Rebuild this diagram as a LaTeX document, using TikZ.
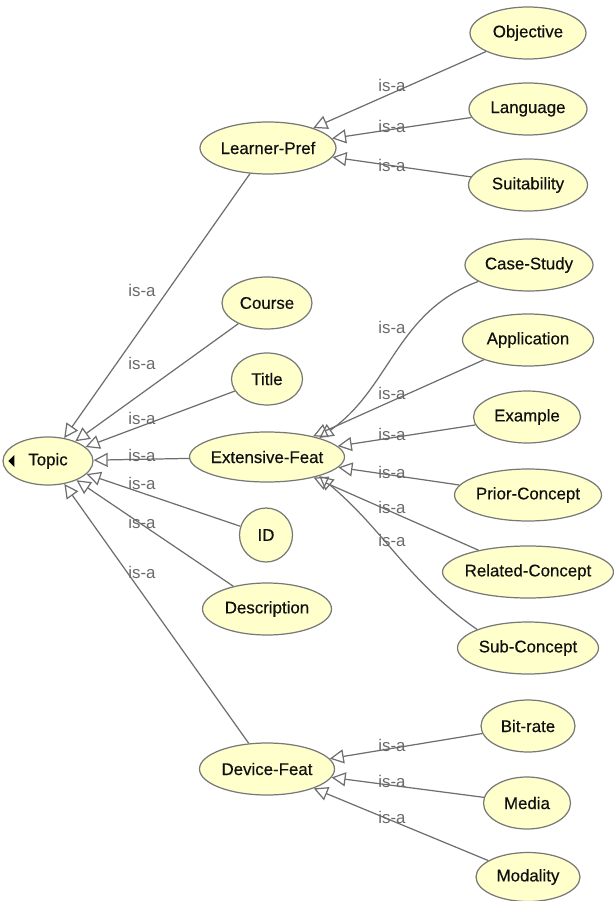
\documentclass[tikz,border=0pt]{standalone}
\usepackage{fontspec}
\setmainfont{Liberation Sans}
\newfontfamily\conceptfont[FakeBold=0.4]{Liberation Sans}
\usepackage{tikz}
\usetikzlibrary{shapes.geometric}
\usetikzlibrary{arrows.meta}
\usepackage{xcolor}

\definecolor{nodefill}{RGB}{255,255,204}
\definecolor{nodeline}{RGB}{120,120,120}
\definecolor{edgegray}{RGB}{110,110,110}
\definecolor{isagray}{RGB}{105,105,105}
\definecolor{textdark}{RGB}{15,15,15}

\newcommand{\ctxt}[1]{\makebox[0pt]{#1}}

\begin{document}
\begin{tikzpicture}[x=0.02cm, y=-0.02cm,
  concept/.style={ellipse, draw=nodeline, fill=nodefill, line width=0.7pt,
    inner sep=0pt, minimum height=1.04cm, text=textdark,
    font=\conceptfont\fontsize{9.6}{11}\selectfont},
  isa/.style={draw=edgegray, line width=0.7pt,
    -{Triangle[open, length=8pt, width=8pt]}},
  lbl/.style={text=isagray, inner sep=0pt, font=\fontsize{9.6}{11}\selectfont}]
  \useasboundingbox (0,0) rectangle (613,901);

  % root
  \node[concept, minimum width=1.8cm, minimum height=0.96cm] (topic) at (48,461) {\ctxt{Topic}};
  \fill[black] (topic.west) ++(6,0) -- ++(6,-6) -- ++(0,12) -- cycle;

  % second level
  \node[concept, minimum width=2.72cm] (lp) at (268,148) {\ctxt{Learner-Pref}};
  \node[concept, minimum width=1.8cm] (course) at (267,303) {\ctxt{Course}};
  \node[concept, minimum width=1.42cm] (title) at (267,379) {\ctxt{Title}};
  \node[concept, minimum width=3.1cm, minimum height=1.0cm] (ext) at (267,457) {\ctxt{Extensive-Feat}};
  \node[concept, minimum width=1.06cm, minimum height=1.08cm] (id) at (266,535) {\ctxt{ID}};
  \node[concept, minimum width=2.58cm] (desc) at (267,609) {\ctxt{Description}};
  \node[concept, minimum width=2.7cm] (dev) at (267,769) {\ctxt{Device-Feat}};

  % third level
  \node[concept, minimum width=2.32cm] (obj) at (528,33) {\ctxt{Objective}};
  \node[concept, minimum width=2.36cm] (lang) at (528,109) {\ctxt{Language}};
  \node[concept, minimum width=2.38cm] (suit) at (528,185) {\ctxt{Suitability}};
  \node[concept, minimum width=2.56cm] (cs) at (529,265) {\ctxt{Case-Study}};
  \node[concept, minimum width=2.62cm] (app) at (528,340) {\ctxt{Application}};
  \node[concept, minimum width=2.14cm] (ex) at (527,417) {\ctxt{Example}};
  \node[concept, minimum width=2.94cm] (prior) at (528,495) {\ctxt{Prior-Concept}};
  \node[concept, minimum width=3.42cm] (rel) at (528,572) {\ctxt{Related-Concept}};
  \node[concept, minimum width=2.82cm] (sub) at (528,648) {\ctxt{Sub-Concept}};
  \node[concept, minimum width=1.88cm] (bit) at (528,726) {\ctxt{Bit-rate}};
  \node[concept, minimum width=1.74cm] (media) at (527,803) {\ctxt{Media}};
  \node[concept, minimum width=2.08cm, minimum height=0.98cm] (mod) at (528,877) {\ctxt{Modality}};

  % is-a links
  \draw[isa] (lp) -- (topic);
  \draw[isa] (course) -- (topic);
  \draw[isa] (title) -- (topic);
  \draw[isa] (ext) -- (topic);
  \draw[isa] (id) -- (topic);
  \draw[isa] (desc) -- (topic);
  \draw[isa] (dev) -- (topic);

  \draw[isa] (obj) -- (lp);
  \draw[isa] (lang) -- (lp);
  \draw[isa] (suit) -- (lp);

  \draw[isa] (cs.198) to[out=200, in=35] (ext.20);
  \draw[isa] (app) -- (ext);
  \draw[isa] (ex) -- (ext);
  \draw[isa] (prior) -- (ext);
  \draw[isa] (rel) -- (ext);
  \draw[isa] (sub.160) to[out=145, in=-40] (ext.-20);

  \draw[isa] (bit) -- (dev);
  \draw[isa] (media) -- (dev);
  \draw[isa] (mod) -- (dev);

  % labels
  \node[lbl] (l-lp) at (142,290) {is-a};
  \node[lbl] (l-course) at (142,363) {is-a};
  \node[lbl] (l-title) at (142,418) {is-a};
  \node[lbl] (l-ext) at (142,455) {is-a};
  \node[lbl] (l-id) at (142,483) {is-a};
  \node[lbl] (l-desc) at (142,522) {is-a};
  \node[lbl] (l-dev) at (142,572) {is-a};

  \node[lbl] (l-obj) at (392,85) {is-a};
  \node[lbl] (l-lang) at (392,126) {is-a};
  \node[lbl] (l-suit) at (392,165) {is-a};
  \node[lbl] (l-cs) at (392,327) {is-a};
  \node[lbl] (l-app) at (392,393) {is-a};
  \node[lbl] (l-ex) at (392,434) {is-a};
  \node[lbl] (l-prior) at (392,472) {is-a};
  \node[lbl] (l-rel) at (392,507) {is-a};
  \node[lbl] (l-sub) at (392,540) {is-a};
  \node[lbl] (l-bit) at (392,745) {is-a};
  \node[lbl] (l-media) at (392,781) {is-a};
  \node[lbl] (l-mod) at (392,817) {is-a};
\end{tikzpicture}
\end{document}
